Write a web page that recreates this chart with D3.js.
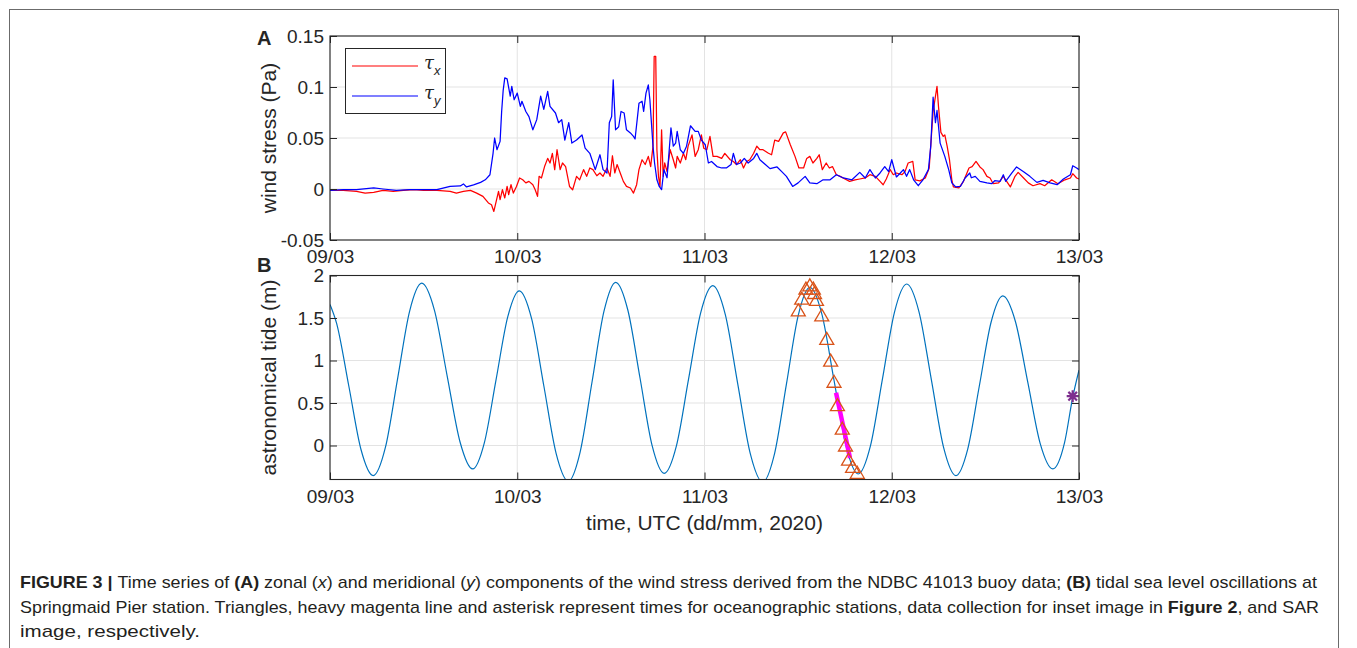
<!DOCTYPE html>
<html>
<head>
<meta charset="utf-8">
<script src="https://cdn.jsdelivr.net/npm/d3@7"></script>
<style>
  html, body { margin: 0; padding: 0; background: #fff; }
  svg { display: block; }
  text { font-family: "Liberation Sans", Arial, Helvetica, sans-serif; fill: #262626; }
  .caption text { font-family: "Liberation Sans Narrow", "Liberation Sans", Arial, sans-serif; fill: #231f20; }
</style>
</head>
<body>
<svg id="fig" width="1357" height="648"></svg>
<script>
// ---- Time axis (hours since 09/03 00:00 UTC) ----
const dayTicks = [0, 24, 48, 72, 96];
const dayLabels = ["09/03", "10/03", "11/03", "12/03", "13/03"];

// ---- Panel A: wind stress (Pa), [hour, value] ----
const stressTicks = [-0.05, 0, 0.05, 0.1, 0.15];
const stressTickLabels = ["-0.05", "0", "0.05", "0.1", "0.15"];

const tauX = [
  [0, -0.0014], [1.7, -0.0014], [3.4, -0.0023], [4.5, -0.004], [5.6, -0.0033], [6.8, -0.0014],
  [8.1, -0.0023], [9.4, -0.0014], [10.7, -0.0007], [12.0, -0.0014], [13.7, -0.0014], [15.4, -0.0023],
  [16.2, -0.004], [17.1, -0.0023], [18.0, -0.0014], [18.8, -0.004], [19.6, -0.0072], [20.3, -0.0137],
  [20.7, -0.0154], [21.0, -0.022], [21.3, -0.0121], [21.6, -0.0023], [21.8, -0.0105], [22.1, -0.0007],
  [22.4, -0.0088], [22.7, 0.0025], [22.9, -0.0056], [23.2, 0.0042], [23.5, -0.004], [23.9, 0.0025],
  [24.3, 0.0108], [24.7, 0.009], [25.1, 0.006], [25.5, 0.0075], [26.0, 0.0042], [26.3, -0.0007],
  [26.6, -0.0072], [26.8, 0.0124], [27.1, 0.0108], [27.5, 0.022], [27.9, 0.030], [28.2, 0.0255],
  [28.5, 0.035], [28.8, 0.019], [29.1, 0.0385], [29.5, 0.019], [29.8, 0.0255], [30.2, 0.022],
  [30.7, 0.0025], [31.1, -0.0007], [31.6, 0.0124], [32.0, 0.009], [32.5, 0.019], [32.9, 0.0124],
  [33.3, 0.0206], [33.7, 0.019], [34.2, 0.013], [34.6, 0.0157], [35.0, 0.0124], [35.5, 0.0206],
  [35.9, 0.0124], [36.2, 0.0326], [36.5, 0.0157], [36.8, 0.024], [37.2, 0.0157], [37.6, 0.0075],
  [38.0, 0.0025], [38.5, 0.001], [38.9, -0.004], [39.3, 0.0042], [39.6, 0.019], [40.0, 0.0287],
  [40.4, 0.024], [40.8, 0.032], [41.1, 0.022], [41.4, 0.042], [41.55, 0.130], [41.75, 0.130],
  [41.9, 0.0385], [42.1, 0.0124], [42.3, 0.0025], [42.5, 0.058], [42.7, 0.0124], [42.9, 0.0255],
  [43.2, 0.017], [43.6, 0.0385], [44.0, 0.0287], [44.3, 0.0206], [44.5, 0.032], [44.9, 0.0255],
  [45.3, 0.035], [45.6, 0.0287], [45.9, 0.042], [46.4, 0.053], [46.8, 0.032], [47.2, 0.0385],
  [47.6, 0.053], [47.9, 0.040], [48.3, 0.0385], [48.7, 0.0516], [49.1, 0.032], [49.6, 0.032],
  [50.2, 0.030], [50.6, 0.035], [51.3, 0.0287], [51.7, 0.027], [52.1, 0.024], [52.6, 0.0287],
  [53.0, 0.0206], [53.4, 0.027], [53.8, 0.0287], [54.3, 0.035], [54.7, 0.042], [55.1, 0.0385],
  [55.5, 0.0385], [56.2, 0.035], [56.6, 0.0336], [57.0, 0.048], [57.5, 0.0467], [58.1, 0.055],
  [58.4, 0.056], [59.0, 0.0434], [59.6, 0.032], [60.1, 0.0206], [60.7, 0.0206], [61.1, 0.030],
  [61.5, 0.032], [61.9, 0.0255], [62.4, 0.030], [62.7, 0.0336], [63.1, 0.019], [63.6, 0.0255],
  [64.0, 0.0206], [64.4, 0.022], [64.9, 0.014], [65.4, 0.0124], [66.0, 0.0098], [66.6, 0.0075],
  [67.3, 0.009], [67.9, 0.0098], [68.6, 0.0108], [69.2, 0.014], [69.9, 0.0124], [70.5, 0.0075],
  [70.9, 0.0042], [71.3, 0.0098], [71.8, 0.019], [72.2, 0.014], [72.6, 0.0157], [73.3, 0.014],
  [73.7, 0.017], [74.1, 0.0255], [74.7, 0.027], [75.0, 0.009], [75.6, 0.008], [76.3, 0.0108],
  [76.8, 0.0206], [77.3, 0.076], [77.8, 0.1006], [78.0, 0.080], [78.3, 0.0555], [78.6, 0.0516],
  [78.8, 0.053], [79.1, 0.042], [79.4, 0.0287], [79.7, 0.009], [79.9, 0.002], [80.6, 0.001],
  [81.2, 0.0075], [81.9, 0.0206], [82.3, 0.022], [82.8, 0.027], [83.3, 0.0216], [83.7, 0.019],
  [84.2, 0.0124], [84.6, 0.0108], [85.0, 0.0052], [85.7, 0.006], [86.3, 0.0124], [86.6, 0.009],
  [87.2, 0.002], [87.8, 0.0124], [88.2, 0.0163], [88.9, 0.0108], [89.5, 0.006], [90.1, 0.0032],
  [91.0, 0.0052], [91.6, 0.0032], [92.5, 0.009], [93.3, 0.0052], [94.2, 0.009], [94.9, 0.0108],
  [95.2, 0.015], [95.7, 0.0108], [96.0, 0.0098]
];

const tauY = [
  [0, -0.0014], [1.7, -0.0007], [3.4, -0.0007], [5.6, 0.001], [6.8, 0.0], [8.5, -0.0014],
  [10.2, -0.0007], [12.0, -0.0007], [13.7, -0.0007], [15.4, 0.0026], [16.7, 0.003], [17.1, 0.005],
  [17.5, 0.002], [18.4, 0.004], [19.3, 0.0065], [19.9, 0.009], [20.5, 0.014], [20.9, 0.035],
  [21.1, 0.050], [21.4, 0.0385], [21.8, 0.0467], [22.0, 0.076], [22.2, 0.097], [22.4, 0.109],
  [22.7, 0.108], [23.1, 0.091], [23.3, 0.1006], [23.6, 0.0875], [24.0, 0.094], [24.4, 0.081],
  [24.6, 0.086], [25.1, 0.076], [25.5, 0.071], [26.0, 0.058], [26.5, 0.068], [27.0, 0.091],
  [27.4, 0.078], [27.9, 0.0957], [28.2, 0.081], [28.9, 0.0745], [29.3, 0.065], [29.7, 0.068],
  [30.1, 0.048], [30.6, 0.065], [31.0, 0.045], [31.6, 0.048], [32.3, 0.053], [32.7, 0.040],
  [33.3, 0.035], [34.0, 0.019], [34.6, 0.0336], [35.0, 0.019], [35.5, 0.0157], [35.8, 0.065],
  [36.1, 0.071], [36.3, 0.107], [36.6, 0.058], [37.0, 0.061], [37.3, 0.076], [37.7, 0.0745],
  [38.0, 0.058], [38.5, 0.055], [38.9, 0.0516], [39.1, 0.049], [39.6, 0.084], [40.0, 0.086],
  [40.2, 0.076], [40.5, 0.094], [40.8, 0.102], [41.0, 0.0875], [41.4, 0.042], [41.6, 0.0255],
  [41.9, 0.009], [42.2, 0.0025], [42.5, -0.0007], [42.8, 0.019], [43.2, 0.011], [43.7, 0.060],
  [44.0, 0.042], [44.3, 0.045], [44.5, 0.0565], [44.9, 0.0385], [45.3, 0.035], [45.7, 0.042],
  [46.2, 0.062], [46.8, 0.0565], [47.2, 0.0565], [47.6, 0.048], [48.1, 0.0434], [48.5, 0.0255],
  [48.9, 0.027], [49.6, 0.022], [50.2, 0.0206], [50.8, 0.0206], [51.4, 0.024], [51.7, 0.035],
  [52.1, 0.024], [52.6, 0.0255], [53.1, 0.030], [53.6, 0.0255], [54.3, 0.030], [54.7, 0.035],
  [55.1, 0.0287], [55.8, 0.024], [56.4, 0.020], [57.3, 0.0216], [57.9, 0.017], [58.5, 0.0124],
  [59.3, 0.0025], [60.0, 0.006], [60.9, 0.0124], [61.5, 0.006], [62.4, 0.0052], [63.2, 0.009],
  [64.1, 0.009], [64.9, 0.014], [65.8, 0.0108], [66.9, 0.009], [67.9, 0.0163], [68.6, 0.0108],
  [69.2, 0.019], [69.9, 0.0108], [70.5, 0.0157], [71.1, 0.022], [71.6, 0.017], [72.0, 0.0287],
  [72.6, 0.0118], [73.1, 0.0157], [73.5, 0.019], [73.9, 0.0124], [74.3, 0.019], [74.8, 0.009],
  [75.4, 0.0032], [76.0, 0.009], [76.7, 0.019], [77.0, 0.042], [77.3, 0.090], [77.6, 0.065],
  [77.8, 0.077], [78.2, 0.045], [78.8, 0.032], [79.3, 0.019], [79.7, 0.006], [80.2, 0.002],
  [80.8, 0.0025], [81.4, 0.0108], [82.0, 0.0157], [82.2, 0.011], [82.7, 0.0124], [83.3, 0.0075],
  [84.2, 0.006], [84.8, 0.0052], [85.2, 0.0081], [85.9, 0.0075], [86.3, 0.014], [86.6, 0.0075],
  [87.4, 0.0157], [88.0, 0.0216], [88.9, 0.017], [89.7, 0.0124], [90.6, 0.0065], [91.4, 0.0085],
  [92.3, 0.006], [93.2, 0.0042], [94.0, 0.0098], [94.9, 0.014], [95.2, 0.0228], [95.7, 0.0206],
  [96.0, 0.019]
];

// ---- Panel B: astronomical tide (m), [hour, level] ----
const tideTicks = [0, 0.5, 1, 1.5, 2];
const tideTickLabels = ["0", "0.5", "1", "1.5", "2"];

const tide = [
  [0, 1.66], [0.84, 1.44], [2.41, 0.70], [3.98, -0.05], [5.54, -0.354],
  [7.10, -0.023], [8.65, 0.778], [10.2, 1.579], [11.76, 1.91],
  [13.39, 1.59], [15.02, 0.817], [16.66, 0.044], [18.29, -0.276],
  [19.78, 0.031], [21.28, 0.772], [22.78, 1.513], [24.26, 1.82],
  [25.84, 1.492], [27.41, 0.70], [28.98, -0.092], [30.55, -0.42],
  [32.06, -0.077], [33.59, 0.75], [35.11, 1.577], [36.62, 1.92],
  [38.18, 1.591], [39.73, 0.797], [41.28, 0.002], [42.84, -0.327],
  [44.4, -0.004], [45.95, 0.777], [47.5, 1.557], [49.06, 1.88],
  [50.66, 1.542], [52.26, 0.725], [53.86, -0.092], [55.46, -0.43],
  [56.98, -0.095], [58.49, 0.715], [60.0, 1.525], [61.51, 1.86],
  [63.06, 1.539], [64.61, 0.763], [66.16, -0.014], [67.7, -0.335],
  [69.26, -0.008], [70.81, 0.783], [72.36, 1.573], [73.92, 1.90],
  [75.5, 1.57], [77.08, 0.773], [78.65, -0.024], [80.23, -0.354],
  [81.73, -0.045], [83.23, 0.703], [84.73, 1.45], [86.23, 1.76],
  [87.84, 1.462], [89.44, 0.742], [91.03, 0.022], [92.64, -0.276],
  [94.14, 0.03], [95.2, 0.57], [96.0, 0.886]
];

// Oceanographic station times (triangles)
const stations = [
  [60.02, 1.595], [60.46, 1.733], [61.0, 1.851], [61.5, 1.89], [61.95, 1.851],
  [62.1, 1.80], [62.35, 1.72], [63.03, 1.536], [63.67, 1.26], [64.17, 1.004],
  [64.6, 0.756], [65.04, 0.481], [65.66, 0.204], [66.07, 0.006], [66.46, -0.16],
  [66.98, -0.245], [67.58, -0.315]
];
// Inset image data collection (heavy magenta line)
const insetSpan = [[64.86, 0.62], [65.75, 0.24], [66.65, -0.147]];
// SAR image acquisition (asterisk)
const sarTime = [[95.19, 0.58]];

// ---- Layout ----
const svg = d3.select("#fig");
const X0 = 330, X1 = 1079;
const x = d3.scaleLinear().domain([0, 96]).range([X0, X1]);
const yA = d3.scaleLinear().domain([-0.05, 0.15]).range([240, 36]);
const yB = d3.scaleLinear().domain([-0.4, 2]).range([479.5, 275.5]);

const AX = "#262626", GRID = "#e3e3e3";
const TICK_FONT = "19px";

// Outer frame of the figure panel
svg.append("rect").attr("x", 9.5).attr("y", 9.5).attr("width", 1329).attr("height", 660)
  .attr("fill", "none").attr("stroke", "#6b6b6b").attr("stroke-width", 1);

function grid(y, ticks, id) {
  const g = svg.append("g");
  const [yb, yt] = y.range();
  g.append("g").selectAll("line").data(ticks).join("line")
    .attr("x1", X0).attr("x2", X1).attr("y1", d => y(d)).attr("y2", d => y(d))
    .attr("stroke", GRID).attr("stroke-width", 1);
  g.append("g").selectAll("line").data(dayTicks).join("line")
    .attr("x1", d => x(d)).attr("x2", d => x(d)).attr("y1", yt).attr("y2", yb)
    .attr("stroke", GRID).attr("stroke-width", 1);
  svg.append("clipPath").attr("id", id).append("rect")
    .attr("x", X0).attr("y", yt).attr("width", X1 - X0).attr("height", yb - yt);
}

function frame(y, ticks, tickLabels) {
  const [yb, yt] = y.range();
  const g = svg.append("g");
  const tl = 7;
  const bottom = d3.axisBottom(x).tickValues(dayTicks).tickFormat((d, i) => dayLabels[i])
    .tickSizeInner(-tl).tickSizeOuter(0).tickPadding(10);
  const gb = g.append("g").attr("transform", `translate(0,${yb})`).call(bottom);
  const top = d3.axisTop(x).tickValues(dayTicks).tickFormat("").tickSizeInner(-tl).tickSizeOuter(0);
  const gt = g.append("g").attr("transform", `translate(0,${yt})`).call(top);
  const left = d3.axisLeft(y).tickValues(ticks).tickFormat((d, i) => tickLabels[i])
    .tickSizeInner(-tl).tickSizeOuter(0).tickPadding(6);
  const gl = g.append("g").attr("transform", `translate(${X0},0)`).call(left);
  const right = d3.axisRight(y).tickValues(ticks).tickFormat("").tickSizeInner(-tl).tickSizeOuter(0);
  const gr = g.append("g").attr("transform", `translate(${X1},0)`).call(right);
  [gb, gt, gl, gr].forEach(a => {
    a.select(".domain").remove();
    a.selectAll(".tick line").attr("stroke", AX).attr("stroke-width", 1);
    a.selectAll(".tick text").attr("fill", AX).style("font-size", TICK_FONT)
      .style("font-family", "'Liberation Sans', Arial, sans-serif");
  });
  g.append("rect").attr("x", X0).attr("y", yt).attr("width", X1 - X0).attr("height", yb - yt)
    .attr("fill", "none").attr("stroke", AX).attr("stroke-width", 1.1);
}

// ---- Panel A ----
grid(yA, stressTicks, "clipA");
const lineA = d3.line().x(d => x(d[0])).y(d => yA(d[1]));
const dataA = svg.append("g").attr("clip-path", "url(#clipA)");
dataA.append("path").datum(tauX).attr("d", lineA).attr("fill", "none")
  .attr("stroke", "#ff0000").attr("stroke-width", 1.25).attr("stroke-linejoin", "round");
dataA.append("path").datum(tauY).attr("d", lineA).attr("fill", "none")
  .attr("stroke", "#0000ff").attr("stroke-width", 1.25).attr("stroke-linejoin", "round");
frame(yA, stressTicks, stressTickLabels);

// legend
const lg = svg.append("g");
lg.append("rect").attr("x", 345.5).attr("y", 48.5).attr("width", 100).attr("height", 65)
  .attr("fill", "#fff").attr("stroke", AX).attr("stroke-width", 1);
[["#ff0000", "x", 66], ["#0000ff", "y", 96]].forEach(([c, s, ly]) => {
  lg.append("line").attr("x1", 352).attr("x2", 418).attr("y1", ly).attr("y2", ly)
    .attr("stroke", c).attr("stroke-width", 1.2);
  const t = lg.append("text").attr("x", 424).attr("y", ly + 3).style("font-size", "18px")
    .style("font-family", "'DejaVu Serif', serif");
  t.append("tspan").text("τ").style("font-style", "italic");
  t.append("tspan").attr("dy", 6).style("font-size", "13px").style("font-style", "italic")
    .style("font-family", "'Liberation Sans', Arial, sans-serif").text(s);
});

// ---- Panel B ----
grid(yB, tideTicks, "clipB");
const lineB = d3.line().x(d => x(d[0])).y(d => yB(d[1])).curve(d3.curveMonotoneX);
const dataB = svg.append("g").attr("clip-path", "url(#clipB)");
dataB.append("path").datum(tide).attr("d", lineB).attr("fill", "none")
  .attr("stroke", "#0072BD").attr("stroke-width", 1.2);
dataB.append("path").datum(insetSpan).attr("d", d3.line().x(d => x(d[0])).y(d => yB(d[1])))
  .attr("fill", "none").attr("stroke", "#ff00ff").attr("stroke-width", 4.5);
const tri = "M0,-6L7,6L-7,6Z";
dataB.append("g").selectAll("path").data(stations).join("path")
  .attr("transform", d => `translate(${x(d[0])},${yB(d[1])})`).attr("d", tri)
  .attr("fill", "none").attr("stroke", "#D95319").attr("stroke-width", 1.3);
const star = "M-6,0H6M0,-6V6M-4.3,-4.3L4.3,4.3M-4.3,4.3L4.3,-4.3";
svg.append("g").selectAll("path").data(sarTime).join("path")
  .attr("transform", d => `translate(${x(d[0])},${yB(d[1])})`).attr("d", star)
  .attr("fill", "none").attr("stroke", "#7E2F8E").attr("stroke-width", 2.2);
frame(yB, tideTicks, tideTickLabels);

// ---- Labels ----
svg.append("text").attr("x", 257).attr("y", 45).style("font-size", "20px").style("font-weight", "bold")
  .attr("fill", "#000").text("A");
svg.append("text").attr("x", 257).attr("y", 272).style("font-size", "20px").style("font-weight", "bold")
  .attr("fill", "#000").text("B");
svg.append("text").attr("transform", `translate(276,${(36 + 240) / 2}) rotate(-90)`)
  .attr("text-anchor", "middle").style("font-size", "21px").text("wind stress (Pa)");
svg.append("text").attr("transform", `translate(276,${(275.5 + 479.5) / 2}) rotate(-90)`)
  .attr("text-anchor", "middle").style("font-size", "21px").text("astronomical tide (m)");
svg.append("text").attr("x", (X0 + X1) / 2).attr("y", 530).attr("text-anchor", "middle")
  .style("font-size", "21px").text("time, UTC (dd/mm, 2020)");

// ---- Caption ----
const cap = svg.append("g").attr("class", "caption");
function capLine(y, parts, width) {
  const t = cap.append("text").attr("x", 20).attr("y", y).style("font-size", "17px");
  if (width) t.attr("textLength", width).attr("lengthAdjust", "spacingAndGlyphs");
  parts.forEach(([s, style]) => {
    const ts = t.append("tspan").text(s);
    if (style === "b") ts.style("font-weight", "bold");
    if (style === "i") ts.style("font-style", "italic");
  });
}
capLine(588, [["FIGURE 3 | ", "b"], ["Time series of "], ["(A)", "b"], [" zonal ("], ["x", "i"],
  [") and meridional ("], ["y", "i"], [") components of the wind stress derived from the NDBC 41013 buoy data; "],
  ["(B)", "b"], [" tidal sea level oscillations at"]], 1297);
capLine(613, [["Springmaid Pier station. Triangles, heavy magenta line and asterisk represent times for oceanographic stations, data collection for inset image in "],
  ["Figure 2", "b"], [", and SAR"]], 1299);
capLine(637, [["image, respectively."]], 180);
</script>
</body>
</html>
